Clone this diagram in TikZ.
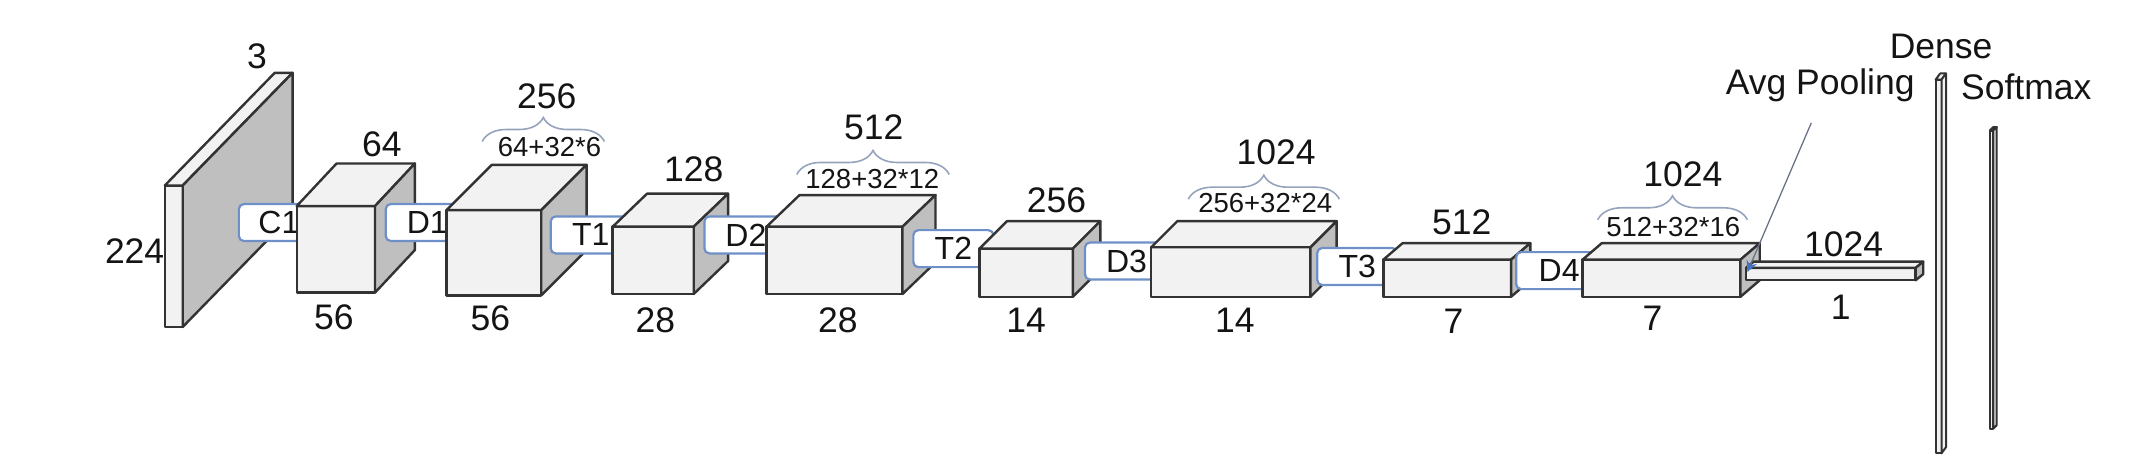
\documentclass[tikz,border=0pt]{standalone}
\usepackage{fontspec}
\setmainfont{Liberation Sans}
\usetikzlibrary{decorations.pathreplacing,arrows.meta}
\definecolor{facelight}{HTML}{F2F2F2}
\definecolor{facedark}{HTML}{BFBFBF}
\definecolor{edgeink}{HTML}{333333}
\definecolor{linkblue}{HTML}{6F8FC9}
\definecolor{braceblue}{HTML}{95A3BC}
\definecolor{tipblue}{HTML}{4472C4}
\newcommand{\solid}[8][2.4pt]{%
  \pgfmathsetmacro{\dxx}{#6-#4}\pgfmathsetmacro{\dyy}{#3-#7}%
  \pgfmathsetmacro{\topx}{#2+\dxx}\pgfmathsetmacro{\sidey}{#5-\dyy}%
  \draw[line width=#1,edgeink,line join=round,fill=facelight] (#2,#3) rectangle (#4,#5);
  \draw[line width=#1,edgeink,line join=round,fill=facelight] (#2,#3) -- (\topx,#7) -- (#6,#7) -- (#4,#3) -- cycle;
  \draw[line width=#1,edgeink,line join=round,fill=#8] (#4,#3) -- (#6,#7) -- (#6,\sidey) -- (#4,#5) -- cycle;
}
\tikzset{
  big/.style={font=\fontsize{35.5}{38}\selectfont,text=black!92,inner sep=0pt},
  small/.style={font=\fontsize{27.5}{30}\selectfont,text=black!92,inner sep=0pt},
  linkbox/.style={draw=linkblue,line width=2.2pt,fill=white,rounded corners=5pt,font=\fontsize{32}{34}\selectfont,text=black!92,inner sep=0pt,minimum height=37pt},
  bracket/.style={draw=braceblue,line width=1.6pt,decorate,decoration={brace,amplitude=24pt,raise=0pt}},
  pointer/.style={draw=braceblue!70!black,line width=1.3pt,-{Stealth[length=11pt,width=11pt,fill=tipblue,color=tipblue]}}
}
\begin{document}
\begin{tikzpicture}[x=1.3737pt,y=-1.3737pt]
\useasboundingbox (0,0) rectangle (1568,334.86);
% input
\solid{120}{135}{133}{238}{213}{53}{facedark}
\node[linkbox,minimum width=80pt] (c1) at (203,162) {C1};
\solid{216}{150}{273}{213}{302}{119}{facedark}
\node[linkbox,minimum width=83pt] (d1) at (311,162) {D1};
\solid{325}{153}{394}{215}{427}{120}{facedark}
\node[linkbox,minimum width=80pt] (t1) at (430,171) {T1};
\solid{446}{165}{505}{214}{530}{141}{facedark}
\node[linkbox,minimum width=83pt] (d2) at (543,171) {D2};
\solid{558}{165}{657}{214}{681}{142}{facedark}
\node[linkbox,minimum width=80pt] (t2) at (694,181) {T2};
\solid{713}{181}{781}{216}{801}{161}{facedark}
\node[linkbox,minimum width=83pt] (d3) at (820,190) {D3};
\solid{838}{180}{954}{216}{973}{161}{facedark}
\node[linkbox,minimum width=80pt] (t3) at (988,194) {T3};
\solid{1007}{189}{1100}{216}{1114}{177}{facedark}
\node[linkbox,minimum width=86pt] (d4) at (1135,197) {D4};
\solid{1152}{189}{1267}{216}{1281}{177}{facedark}
\solid{1271}{195}{1394.5}{204}{1400}{190.5}{facedark}
\solid[2pt]{1409}{58}{1413.3}{330}{1416.6}{53.5}{facelight}
\solid[2pt]{1448.5}{95}{1451}{312}{1453.5}{92.5}{facelight}
% braces
\coordinate (b1a) at (440,103); \coordinate (b1b) at (351,103);
\coordinate (b2a) at (691,127); \coordinate (b2b) at (580,127);
\coordinate (b3a) at (975,145); \coordinate (b3b) at (865,145);
\coordinate (b4a) at (1272,160); \coordinate (b4b) at (1163,160);
\draw[bracket] (b1b) -- (b1a);
\draw[bracket] (b2b) -- (b2a);
\draw[bracket] (b3b) -- (b3a);
\draw[bracket] (b4b) -- (b4a);
% pooling pointer
\coordinate (pfree) at (1318.5,89.5);
\coordinate (ptip) at (1272,198);
\draw[pointer] (pfree) -- (ptip);
% labels
\node[big] (l3) at (187,41) {3};
\node[big] (l224) at (98,183) {224};
\node[big] (l64) at (278,105) {64};
\node[big] (l56a) at (243,231) {56};
\node[big] (l256a) at (398,70) {256};
\node[small] (s1) at (400,107) {64+32*6};
\node[big] (l56b) at (357,232) {56};
\node[big] (l128) at (505,123) {128};
\node[big] (l28a) at (477,233) {28};
\node[big] (l512a) at (636,93) {512};
\node[small] (s2) at (635,130) {128+32*12};
\node[big] (l28b) at (610,233) {28};
\node[big] (l256b) at (769,146) {256};
\node[big] (l14a) at (747,233) {14};
\node[big] (l1024a) at (929,111) {1024};
\node[small] (s3) at (921,148) {256+32*24};
\node[big] (l14b) at (899,233) {14};
\node[big] (l512b) at (1064,162) {512};
\node[big] (l7a) at (1058,234) {7};
\node[big] (l1024b) at (1225,127) {1024};
\node[small] (s4) at (1218,165) {512+32*16};
\node[big] (l7b) at (1203,232) {7};
\node[big] (l1024c) at (1342,178) {1024};
\node[big] (l1) at (1340,224) {1};
\node[big] (dense) at (1413,34) {Dense};
\node[big] (avg) at (1325,62) {Avg Pooling};
\node[big] (soft) at (1475,63) {Softmax};
\end{tikzpicture}
\end{document}
